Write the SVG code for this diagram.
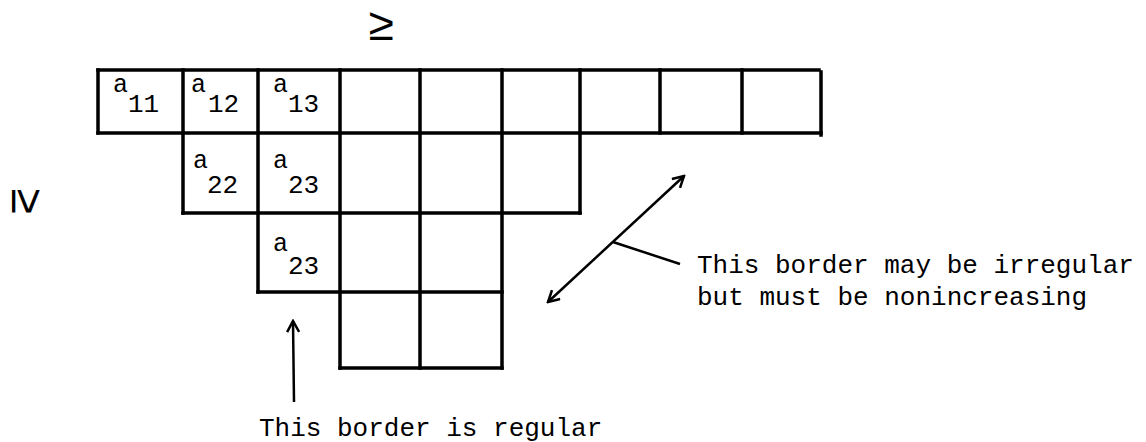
<svg xmlns="http://www.w3.org/2000/svg" width="1146" height="442" viewBox="0 0 1146 442">
<style>
.g{stroke:#000;stroke-width:3.5;fill:none;stroke-linecap:square}
.t{font-family:"Liberation Mono",monospace;fill:#000}
.a{font-size:25px}
.s{font-size:26px}
.lbl{font-family:"Liberation Mono",monospace;font-size:26px;fill:#000}
.sym{font-family:"Liberation Sans",sans-serif;font-size:46px;fill:#000}
.c{stroke:#000;stroke-width:2.5;fill:none}
</style>
<defs>
<marker id="ah" viewBox="0 0 14 14" refX="12" refY="7" markerWidth="14" markerHeight="14" markerUnits="userSpaceOnUse" orient="auto-start-reverse">
<path d="M1,1 L12,7 L1,13" fill="none" stroke="#000" stroke-width="2.5"/>
</marker>
</defs>
<g id="grid">
<path class="g" d="M98,70 H819 M98,133 H821 M183,213 H580 M258,292 H502 M340,368 H502"/>
<path class="g" d="M98,70 V133 M183,70 V213 M258,70 V292 M340,70 V368 M420,70 V368 M502,70 V368 M580,70 V213 M660,70 V133 M742,70 V133 M821,72 V135"/>
</g>
<g id="cells">
<text class="t a" x="113" y="92">a</text><text class="t s" x="128" y="112">11</text>
<text class="t a" x="191" y="92">a</text><text class="t s" x="208" y="112">12</text>
<text class="t a" x="273" y="92">a</text><text class="t s" x="288" y="112">13</text>
<text class="t a" x="193" y="168">a</text><text class="t s" x="207" y="193">22</text>
<text class="t a" x="273" y="168">a</text><text class="t s" x="288" y="193">23</text>
<text class="t a" x="273" y="251">a</text><text class="t s" x="288" y="274">23</text>
</g>
<g id="symbols">
<text class="sym" x="381" y="40" text-anchor="middle">≥</text>
<text class="sym" text-anchor="middle" transform="translate(25,201) rotate(90) translate(0,13.5)">≥</text>
</g>
<g id="connectors">
<line class="c" x1="548" y1="302" x2="684" y2="176" marker-start="url(#ah)" marker-end="url(#ah)"/>
<line class="c" x1="613" y1="242" x2="680" y2="264"/>
<line class="c" x1="294" y1="402" x2="293" y2="321" marker-end="url(#ah)"/>
</g>
<g id="labels">
<text class="lbl" x="697" y="273">This border may be irregular</text>
<text class="lbl" x="697" y="305">but must be nonincreasing</text>
<text class="lbl" x="259" y="436">This border is regular</text>
</g>
</svg>
